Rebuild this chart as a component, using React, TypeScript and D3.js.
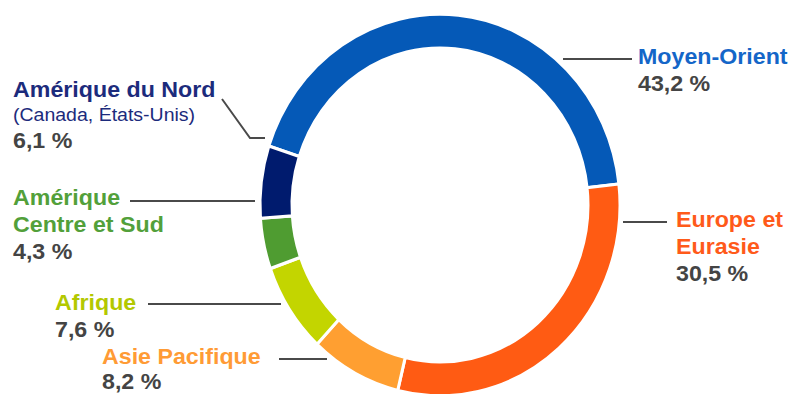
import React from "react";
import * as d3 from "d3";

const regions = ["Moyen-Orient", "Europe et Eurasie", "Asie Pacifique", "Afrique", "Amérique Centre et Sud", "Amérique du Nord"];
const shares = [43.2, 30.5, 8.2, 7.6, 4.3, 6.1];
const shareLabels = ["43,2 %", "30,5 %", "8,2 %", "7,6 %", "4,3 %", "6,1 %"];
const nameLines = [["Moyen-Orient"], ["Europe et", "Eurasie"], ["Asie Pacifique"], ["Afrique"], ["Amérique", "Centre et Sud"], ["Amérique du Nord"]];
const subtitles = ["", "", "", "", "", "(Canada, États-Unis)"];
const sliceColors = ["#0559B7", "#FF5B13", "#FF9F31", "#C3D500", "#4F9C31", "#001B6E"];
const textColors = ["#1466C8", "#FF5A1A", "#FF9B35", "#B3C800", "#52A03A", "#1C2B7C"];

// layout: label anchor (x, first baseline), line step, and leader line points
const labelPos: [number, number][] = [[638, 64], [676, 227], [102, 364], [55, 310], [13, 205], [13, 97]];
const lineSteps = [27, 27, 25, 27, 27, 27];
const leaders: [number, number][][] = [
  [[563, 59], [632, 59]],
  [[623, 222], [667, 222]],
  [[279, 359], [327, 359]],
  [[148, 304], [281, 304]],
  [[130, 201], [255, 201]],
  [[222, 99], [250, 138], [265, 138]],
];

const W = 790, H = 394;
const cx = 440, cy = 205, rOuter = 180, rInner = 148, yScale = 1.06;
const startDeg = -72;

export default function App() {
  const pie = d3.pie<number>().sort(null).value((d) => d)
    .startAngle((startDeg * Math.PI) / 180)
    .endAngle(((startDeg + 360) * Math.PI) / 180);
  const arcs = pie(shares);
  const arc = d3.arc<d3.PieArcDatum<number>>().innerRadius(rInner).outerRadius(rOuter);
  const line = d3.line();
  const font = "'Liberation Sans', Arial, sans-serif";
  return (
    <svg width={W} height={H} style={{ position: "absolute", left: 0, top: 0, display: "block" }} fontFamily={font}>
      <rect width={W} height={H} fill="#fff" />
      <g transform={`translate(${cx},${cy}) scale(1,${yScale})`}>
        {arcs.map((a, i) => (
          <path key={regions[i]} d={arc(a) || ""} fill={sliceColors[i]} stroke="#fff" strokeWidth={3} strokeLinejoin="miter" />
        ))}
      </g>
      {leaders.map((pts, i) => (
        <path key={"l" + i} d={line(pts) || ""} fill="none" stroke="#4a4a4a" strokeWidth={2} />
      ))}
      {regions.map((r, i) => {
        const [x, y] = labelPos[i];
        const step = lineSteps[i];
        const lines = nameLines[i];
        let yy = y;
        const els: React.ReactNode[] = [];
        lines.forEach((t, j) => {
          els.push(
            <text key={"n" + j} x={0} y={yy - y} fill={textColors[i]} fontWeight="bold" fontSize={22}>{t}</text>
          );
          yy += step;
        });
        if (subtitles[i]) {
          yy -= 3;
          els.push(
            <text key="s" x={0} y={yy - y} fill={textColors[i]} fontSize={18.5}>{subtitles[i]}</text>
          );
          yy += step;
        }
        els.push(
          <text key="p" x={0} y={yy - y} fill="#444" fontWeight="bold" fontSize={22}>{shareLabels[i]}</text>
        );
        return (
          <g key={r} transform={`translate(${x},${y}) scale(1.055,1)`}>{els}</g>
        );
      })}
    </svg>
  );
}
